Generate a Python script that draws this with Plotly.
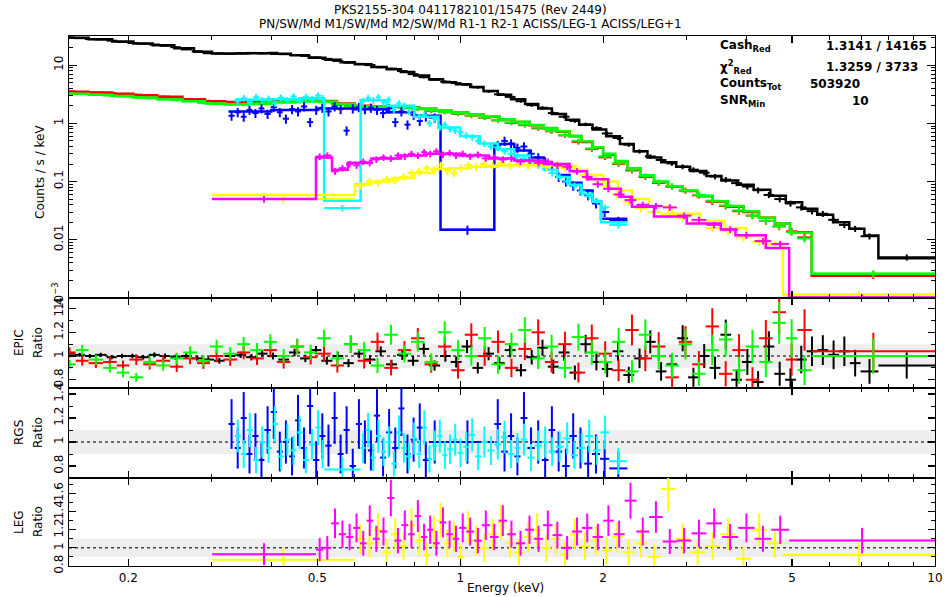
import numpy as np
import plotly.graph_objects as go
from plotly.subplots import make_subplots

# ---------------- EPIC pn (black) ----------------
pn_edges = [0.146, 0.154, 0.162, 0.170, 0.180, 0.189, 0.199, 0.209, 0.221, 0.233, 0.245, 0.258, 0.272, 0.287, 0.303,
            0.319, 0.336, 0.354, 0.373, 0.393, 0.414, 0.436, 0.460, 0.484, 0.510, 0.538, 0.567, 0.597, 0.629, 0.663,
            0.698, 0.736, 0.775, 0.817, 0.860, 0.907, 0.955, 1.007, 1.061, 1.118, 1.178, 1.241, 1.308, 1.378, 1.452,
            1.530, 1.612, 1.699, 1.790, 1.886, 1.987, 2.094, 2.206, 2.325, 2.449, 2.581, 2.719, 2.865, 3.019, 3.181,
            3.352, 3.532, 3.721, 3.921, 4.132, 4.353, 4.587, 4.833, 5.093, 5.366, 5.654, 5.958, 6.277, 6.614, 6.970,
            7.600, 10.0]
pn_rate = [30.0, 29.0, 28.0, 27.5, 26.3, 25.0, 24.0, 23.3, 22.6, 21.5, 20.3, 18.6, 17.3, 16.0, 15.8, 15.6, 16.0, 16.2,
           15.9, 16.3, 15.4, 14.9, 14.4, 13.6, 12.8, 11.8, 11.0, 10.5, 10.0, 9.2, 8.7, 7.9, 7.0, 6.2, 5.6, 5.2, 4.9,
           4.6, 4.15, 3.55, 3.15, 2.85, 2.40, 2.05, 1.85, 1.50, 1.30, 1.10, 0.96, 0.83, 0.67, 0.56, 0.43, 0.33, 0.27,
           0.235, 0.205, 0.18, 0.16, 0.142, 0.122, 0.108, 0.094, 0.082, 0.071, 0.059, 0.050, 0.042, 0.036, 0.031,
           0.028, 0.022, 0.018, 0.0155, 0.0115, 0.0050]
pn_ratio = [1.02, 1.01, 1.00, 1.01, 0.99, 1.00, 1.00, 0.99, 1.01, 1.00, 0.99, 1.00, 0.98, 0.97,
            0.96, 1.00, 1.01, 0.99, 1.02, 1.00, 0.97, 1.03, 0.98, 1.05, 0.96, 1.00, 0.94, 1.02, 0.97, 1.04,
            0.93, 1.01, 0.96, 1.06, 0.92, 1.00, 0.95, 1.08, 0.90, 1.02,
            0.94, 1.05, 0.88, 0.99, 1.07, 0.91, 1.03, 0.86, 1.10, 0.95,
            0.89, 1.04, 0.84, 0.98, 1.12, 0.87, 0.93, 1.15, 0.82, 1.00,
            0.90, 1.18, 0.80, 0.95, 0.78, 1.08, 0.85, 0.80, 0.97, 1.04,
            1.05, 1.01, 1.04, 0.94, 0.87, 0.92]
pn_model_edges = [0.146, 0.165, 0.185, 0.205, 0.225, 0.25, 0.275, 0.3, 0.33, 0.36, 0.4, 0.44, 0.48, 0.52, 0.56, 0.6,
                  0.65, 0.7, 0.75, 0.8, 0.86, 0.92, 0.98, 1.05, 1.12, 1.2, 1.28, 1.37, 1.46, 1.56, 1.67, 1.78, 1.9,
                  2.03, 2.17, 2.32, 2.48, 2.65, 2.85, 3.05, 3.3, 3.55, 3.85, 4.15, 4.5, 4.85, 5.25, 5.65, 6.1, 6.6,
                  7.1, 7.6, 10.0]
pn_model = [29.5, 27.8, 25.5, 23.5, 22.0, 19.5, 17.0, 15.8, 15.8, 16.0, 15.6, 14.7, 13.4, 12.4, 11.2, 10.3, 9.3, 8.5,
            7.6, 6.6, 5.7, 5.1, 4.7, 4.2, 3.6, 3.1, 2.6, 2.15, 1.8, 1.45, 1.15, 0.95, 0.78, 0.60, 0.44, 0.33, 0.26,
            0.215, 0.18, 0.152, 0.125, 0.104, 0.088, 0.072, 0.057, 0.044, 0.034, 0.027, 0.020, 0.0155, 0.0118, 0.0048]

# ---------------- MOS1 (red) / MOS2 (green) ----------------
mos_edges = [0.146, 0.155, 0.165, 0.177, 0.189, 0.201, 0.215, 0.229, 0.245, 0.261, 0.279, 0.297, 0.317, 0.339, 0.361,
             0.386, 0.411, 0.439, 0.469, 0.500, 0.534, 0.569, 0.608, 0.648, 0.692, 0.739, 0.788, 0.841, 0.898, 0.958,
             1.022, 1.090, 1.163, 1.241, 1.325, 1.413, 1.508, 1.609, 1.717, 1.833, 1.955, 2.087, 2.227, 2.376, 2.535,
             2.705, 2.887, 3.080, 3.287, 3.508, 3.743, 3.994, 4.262, 4.548, 4.853, 5.130, 5.500, 10.0]
m1_rate = [3.55, 3.45, 3.40, 3.30, 3.20, 3.10, 3.00, 2.88, 2.75, 2.60, 2.45, 2.38, 2.30, 2.28, 2.35, 2.40, 2.42, 2.45,
           2.45, 2.35, 2.15, 1.98, 1.95, 1.93, 1.92, 1.85, 1.75, 1.62, 1.55, 1.45, 1.35, 1.25, 1.12, 1.02, 0.93, 0.82,
           0.73, 0.62, 0.48, 0.36, 0.26, 0.20, 0.155, 0.12, 0.095, 0.082, 0.070, 0.058, 0.045, 0.038, 0.031, 0.026,
           0.021, 0.017, 0.014, 0.011, 0.0025]
m2_rate = [3.25, 3.20, 3.10, 3.00, 2.90, 2.80, 2.70, 2.60, 2.50, 2.40, 2.25, 2.15, 2.10, 2.10, 2.20, 2.30, 2.35, 2.40,
           2.42, 2.30, 2.10, 1.95, 1.93, 1.92, 1.90, 1.85, 1.76, 1.65, 1.56, 1.47, 1.36, 1.26, 1.14, 1.04, 0.95, 0.84,
           0.74, 0.63, 0.50, 0.37, 0.27, 0.205, 0.16, 0.125, 0.098, 0.084, 0.071, 0.059, 0.047, 0.039, 0.032, 0.026,
           0.021, 0.017, 0.0135, 0.0105, 0.0026]
m1_ratio = [1.03, 0.96, 0.94, 0.95, 0.92, 0.97, 0.93, 0.96, 0.91, 0.98, 0.94, 1.00, 0.97, 1.03, 0.98, 1.05, 0.95, 1.08,
            0.99, 1.02, 0.92, 1.10, 0.96, 1.12, 0.90, 1.05, 1.15, 0.93, 1.08, 0.88, 1.18, 1.00, 1.12, 0.90, 1.06, 1.20,
            0.95, 1.10, 0.86, 1.15, 1.02, 0.88, 1.22, 0.98, 1.08, 0.82, 1.12, 0.93, 1.25, 0.85, 1.05, 0.80, 1.15, 1.37,
            0.97, 1.22, 1.04]
m2_ratio = [0.93, 1.05, 0.97, 0.90, 0.86, 0.82, 0.95, 0.92, 0.98, 1.03, 0.96, 1.08, 1.02, 1.10, 1.05, 1.12, 1.00, 1.08,
            1.03, 1.15, 0.98, 1.10, 1.05, 0.92, 1.18, 1.02, 1.12, 0.95, 1.20, 1.05, 1.00, 1.15, 0.93, 1.10, 1.22, 0.98,
            1.08, 0.90, 1.16, 1.03, 0.95, 1.12, 0.87, 1.18, 1.00, 0.92, 1.10, 0.85, 1.05, 1.14, 0.88, 1.08, 0.95, 1.28,
            1.15, 0.88, 1.00]
mos_model_edges = [0.146, 0.165, 0.185, 0.205, 0.23, 0.26, 0.29, 0.32, 0.36, 0.4, 0.45, 0.5, 0.55, 0.6, 0.65, 0.7,
                   0.76, 0.82, 0.89, 0.96, 1.04, 1.12, 1.21, 1.3, 1.4, 1.5, 1.6, 1.7, 1.8, 1.9, 2.0, 2.12, 2.25, 2.4,
                   2.56, 2.74, 2.94, 3.16, 3.4, 3.66, 3.95, 4.26, 4.6, 4.95, 5.5, 10.0]
m1_model = [3.5, 3.38, 3.22, 3.05, 2.85, 2.6, 2.4, 2.32, 2.33, 2.4, 2.44, 2.42, 2.2, 2.0, 1.95, 1.93, 1.88, 1.78,
            1.65, 1.53, 1.42, 1.3, 1.17, 1.05, 0.93, 0.82, 0.72, 0.6, 0.48, 0.38, 0.29, 0.22, 0.165, 0.125, 0.098,
            0.082, 0.069, 0.056, 0.045, 0.037, 0.03, 0.024, 0.019, 0.0135, 0.0024]
m2_model = [3.22, 3.1, 2.95, 2.78, 2.6, 2.4, 2.2, 2.12, 2.15, 2.28, 2.38, 2.38, 2.15, 1.97, 1.93, 1.91, 1.87, 1.78,
            1.66, 1.54, 1.43, 1.31, 1.18, 1.06, 0.94, 0.83, 0.73, 0.61, 0.49, 0.39, 0.30, 0.225, 0.17, 0.128, 0.1,
            0.083, 0.07, 0.057, 0.046, 0.038, 0.031, 0.024, 0.019, 0.0132, 0.0026]

# ---------------- RGS1 (blue) ----------------
r1_edges = [0.325, 0.335, 0.345, 0.355, 0.365, 0.376, 0.387, 0.399, 0.411, 0.423, 0.436, 0.449, 0.462, 0.476, 0.490,
            0.505, 0.520, 0.536, 0.552, 0.568, 0.585, 0.603, 0.621, 0.639, 0.658, 0.678, 0.698, 0.719, 0.741, 0.763,
            0.786, 0.810, 0.834, 0.859, 0.909, 1.180, 1.220, 1.260, 1.300, 1.340, 1.385, 1.435, 1.485, 1.535, 1.585,
            1.640, 1.700, 1.760, 1.825, 1.895, 1.970, 2.060, 2.250]
r1_rate = [1.35, 1.55, 1.30, 1.70, 1.50, 1.80, 1.45, 1.90, 1.55, 1.20, 1.75, 1.60, 1.95, 1.05, 1.70, 1.85, 1.60, 1.95,
           1.75, 0.75, 1.80, 1.90, 1.75, 1.85, 1.70, 1.50, 1.80, 1.05, 1.60, 0.95, 1.40, 1.10, 1.30, 1.25, 0.0148,
           0.42, 0.50, 0.45, 0.38, 0.40, 0.30, 0.26, 0.22, 0.19, 0.12, 0.10, 0.085, 0.07, 0.058, 0.042, 0.030, 0.021]
r1_ratio = [1.15, 0.95, 1.20, 0.90, 1.05, 0.85, 1.10, 1.25, 0.92, 1.00, 0.88, 1.18, 0.95, 1.30, 0.85, 1.05, 0.97, 1.20,
            0.90, 1.10, 0.80, 1.15, 1.00, 0.93, 1.22, 0.87, 1.08, 0.95, 1.28, 0.90, 1.02, 1.12, 0.85, 1.00, 1.00, 1.15,
            0.92, 1.05, 0.88, 1.20, 0.95, 1.00, 0.85, 1.10, 0.92, 0.80, 1.05, 0.95, 0.82, 0.90, 0.86, 0.78]
r1_model_edges = [0.325, 0.4, 0.5, 0.6, 0.7, 0.8, 0.909, 1.18, 1.3, 1.4, 1.5, 1.6, 1.7, 1.8, 1.9, 1.98, 2.25]
r1_model = [1.6, 1.7, 1.8, 1.75, 1.55, 1.35, 0.0148, 0.44, 0.34, 0.26, 0.19, 0.13, 0.095, 0.07, 0.045, 0.023]

# ---------------- RGS2 (cyan) ----------------
r2_edges = [0.335, 0.345, 0.355, 0.366, 0.377, 0.389, 0.401, 0.413, 0.426, 0.439, 0.452, 0.466, 0.480, 0.495, 0.509,
            0.517, 0.617, 0.632, 0.648, 0.664, 0.681, 0.698, 0.716, 0.734, 0.752, 0.771, 0.790, 0.810, 0.830, 0.851,
            0.873, 0.895, 0.917, 0.940, 0.964, 0.988, 1.015, 1.045, 1.075, 1.107, 1.142, 1.180, 1.220, 1.260, 1.300,
            1.340, 1.385, 1.435, 1.485, 1.535, 1.590, 1.650, 1.710, 1.770, 1.835, 1.905, 1.975, 2.060, 2.250]
r2_rate = [2.40, 2.70, 2.30, 2.80, 2.50, 2.65, 2.20, 2.75, 2.50, 2.90, 2.45, 2.85, 2.60, 3.00, 2.70, 0.035, 2.40, 2.70,
           2.50, 2.80, 2.30, 2.55, 1.70, 2.20, 2.00, 1.60, 1.85, 1.30, 1.40, 1.00, 1.20, 0.85, 0.95, 0.80, 0.75, 0.70,
           0.62, 0.58, 0.50, 0.45, 0.40, 0.38, 0.33, 0.30, 0.27, 0.25, 0.22, 0.19, 0.17, 0.14, 0.12, 0.10, 0.085,
           0.068, 0.056, 0.047, 0.036, 0.018]
r2_ratio = [1.05, 0.90, 1.10, 0.85, 1.00, 0.95, 1.15, 0.88, 1.02, 0.93, 1.08, 0.85, 0.98, 1.12, 0.90, 0.77, 0.95, 1.10,
            0.87, 1.05, 0.92, 1.00, 0.82, 1.08, 0.95, 0.88, 1.03, 0.90, 1.12, 0.86, 0.97, 1.05, 0.89, 0.94, 1.02, 0.91,
            0.96, 1.06, 0.88, 1.00, 0.93, 0.98, 1.04, 0.90, 0.95, 1.02, 0.87, 0.97, 1.00, 0.92, 0.96, 1.03, 0.89, 0.95,
            1.05, 0.93, 1.08, 0.84]
r2_model_edges = [0.335, 0.4, 0.46, 0.517, 0.617, 0.7, 0.8, 0.9, 1.0, 1.1, 1.2, 1.3, 1.4, 1.5, 1.6, 1.7, 1.8, 1.9,
                  1.98, 2.25]
r2_model = [2.55, 2.6, 2.7, 0.047, 2.5, 2.0, 1.3, 0.85, 0.6, 0.45, 0.36, 0.28, 0.21, 0.16, 0.12, 0.088, 0.062, 0.045,
            0.020]

# ---------------- Chandra LETG -1 (magenta) ----------------
lm_edges = [0.300, 0.497, 0.515, 0.535, 0.555, 0.575, 0.595, 0.615, 0.635, 0.655, 0.677, 0.702, 0.727, 0.752, 0.777,
            0.802, 0.827, 0.852, 0.877, 0.905, 0.935, 0.965, 0.995, 1.030, 1.070, 1.110, 1.155, 1.205, 1.255, 1.310,
            1.370, 1.430, 1.495, 1.565, 1.640, 1.720, 1.805, 1.900, 2.000, 2.105, 2.220, 2.350, 2.500, 2.670, 2.860,
            3.070, 3.300, 3.560, 3.850, 4.170, 4.520, 4.930, 10.0]
lm_rate = [0.050, 0.27, 0.28, 0.15, 0.17, 0.20, 0.19, 0.22, 0.21, 0.24, 0.26, 0.25, 0.28, 0.27, 0.30, 0.28, 0.32,
           0.30, 0.33, 0.29, 0.31, 0.28, 0.30, 0.27, 0.29, 0.25, 0.26, 0.24, 0.25, 0.22, 0.23, 0.21, 0.22, 0.19, 0.18,
           0.15, 0.12, 0.09, 0.075, 0.06, 0.048, 0.040, 0.038, 0.036, 0.026, 0.022, 0.018, 0.015, 0.012, 0.0095,
           0.0085, 0.00102]
lm_ratio = [0.93, 0.98, 1.00, 1.27, 1.15, 1.12, 1.22, 1.05, 1.30, 1.10, 1.18, 1.55, 1.08, 1.25, 1.15, 1.35, 1.12, 1.20,
            1.05, 1.28, 1.15, 1.10, 1.22, 1.18, 1.08, 1.25, 1.12, 1.30, 1.15, 1.05, 1.20, 1.10, 1.25, 1.14, 1.00, 1.18,
            1.22, 1.12, 1.30, 1.15, 1.52, 1.18, 1.34, 1.07, 1.08, 1.16, 1.27, 1.12, 1.22, 1.10, 1.20, 1.08]
lm_model_edges = [0.300, 0.497, 0.537, 0.58, 0.65, 0.75, 0.85, 1.0, 1.15, 1.3, 1.5, 1.7, 1.85, 2.05, 2.18, 2.3, 2.56,
                  3.0, 3.54, 3.8, 4.4, 4.93, 10.0]
lm_model = [0.05, 0.26, 0.16, 0.21, 0.25, 0.28, 0.30, 0.28, 0.25, 0.23, 0.20, 0.15, 0.11, 0.075, 0.055, 0.037, 0.025,
            0.019, 0.015, 0.012, 0.0072, 0.00102]

# ---------------- Chandra LETG +1 (yellow) ----------------
lp_edges = [0.300, 0.600, 0.632, 0.657, 0.685, 0.715, 0.745, 0.775, 0.805, 0.835, 0.865, 0.895, 0.925, 0.955, 0.985,
            1.020, 1.060, 1.100, 1.145, 1.195, 1.245, 1.300, 1.360, 1.420, 1.485, 1.555, 1.625, 1.700, 1.785, 1.880,
            1.980, 2.085, 2.200, 2.330, 2.480, 2.650, 2.840, 3.050, 3.280, 3.530, 3.800, 4.100, 4.430, 4.780, 10.0]
lp_rate = [0.05, 0.085, 0.10, 0.095, 0.11, 0.105, 0.12, 0.14, 0.15, 0.17, 0.16, 0.19, 0.15, 0.14, 0.17, 0.19, 0.18,
           0.20, 0.19, 0.21, 0.19, 0.20, 0.19, 0.20, 0.18, 0.19, 0.17, 0.16, 0.13, 0.11, 0.085, 0.06, 0.045, 0.035,
           0.030, 0.028, 0.024, 0.020, 0.016, 0.014, 0.011, 0.0093, 0.0082, 0.00115]
lp_ratio = [0.87, 1.10, 1.05, 1.20, 0.95, 1.15, 1.02, 1.25, 1.08, 0.92, 1.18, 1.30, 1.05, 1.12, 0.90, 1.22, 1.08, 1.00,
            1.15, 1.28, 1.05, 0.95, 1.12, 1.20, 1.00, 1.10, 0.93, 1.15, 1.02, 1.08, 0.97, 1.12, 0.95, 1.05, 0.90, 1.65,
            1.10, 0.95, 1.02, 1.15, 0.88, 1.20, 1.05, 0.92]
lp_model_edges = [0.300, 0.60, 0.65, 0.72, 0.80, 0.88, 0.95, 1.05, 1.2, 1.4, 1.6, 1.75, 1.85, 2.0, 2.15, 2.3, 2.5,
                  2.8, 3.2, 3.6, 4.0, 4.4, 4.78, 10.0]
lp_model = [0.059, 0.09, 0.10, 0.115, 0.14, 0.165, 0.17, 0.18, 0.19, 0.19, 0.185, 0.16, 0.13, 0.10, 0.07, 0.05,
            0.037, 0.028, 0.021, 0.016, 0.012, 0.0085, 0.00115]

# ---------------- text ----------------
title_1 = "PKS2155-304 0411782101/15475 (Rev 2449)"
title_2 = "PN/SW/Md M1/SW/Md M2/SW/Md R1-1 R2-1 ACISS/LEG-1 ACISS/LEG+1"
stat_labels = ["Cash<sub>Red</sub>", "χ<sup>2</sup><sub>Red</sub>", "Counts<sub>Tot</sub>", "SNR<sub>Min</sub>"]
stat_values = ["1.3141 / 14165", "1.3259 / 3733", "503920", "10"]

# ---------------- figure ----------------
W, H = 945, 597
L, R, T, B = 69, 10, 36, 31
PW, PH = W - L - R, H - T - B


def px(xp):
    return (xp - L) / PW


def py(yp):
    return (H - B - yp) / PH


fig = make_subplots(rows=4, cols=1, shared_xaxes=True, vertical_spacing=0,
                    row_heights=[262, 90, 90, 88])

FONT = "DejaVu Sans"


def bins(edges):
    e = np.asarray(edges, dtype=float)
    lo, hi = e[:-1], e[1:]
    c = np.sqrt(lo * hi)
    return c, c - lo, hi - c


def add_series(edges, rate, ratio, medges, model, color, row, a, b, cap, th=2.0):
    c, em, ep = bins(edges)
    f = np.asarray(rate, dtype=float)
    r = np.asarray(ratio, dtype=float)
    rel = np.minimum(cap, a * c ** b)          # error-bar scale (style)
    ex = dict(type="data", symmetric=False, array=ep, arrayminus=em, color=color, thickness=th, width=0)
    fig.add_trace(go.Scatter(x=c, y=f, mode="markers", marker=dict(size=1, color=color),
                             error_x=ex, error_y=dict(type="data", array=f * rel, color=color, thickness=th, width=0),
                             hoverinfo="skip"), row=1, col=1)
    fig.add_trace(go.Scatter(x=list(medges), y=list(model) + [model[-1]], mode="lines",
                             line=dict(shape="hv", color=color, width=2.5), hoverinfo="skip"), row=1, col=1)
    fig.add_trace(go.Scatter(x=c, y=r, mode="markers", marker=dict(size=1, color=color),
                             error_x=ex, error_y=dict(type="data", array=r * rel, color=color, thickness=th, width=0),
                             hoverinfo="skip"), row=row, col=1)


add_series(pn_edges, pn_rate, pn_ratio, pn_model_edges, pn_model, "#000000", 2, 0.05, 0.6, 0.12)
add_series(mos_edges, m1_rate, m1_ratio, mos_model_edges, m1_model, "#ff0000", 2, 0.08, 0.35, 0.15)
add_series(mos_edges, m2_rate, m2_ratio, mos_model_edges, m2_model, "#00ff00", 2, 0.08, 0.35, 0.15)
add_series(r1_edges, r1_rate, r1_ratio, r1_model_edges, r1_model, "#0000ff", 3, 0.18, 0.0, 0.2)
add_series(r2_edges, r2_rate, r2_ratio, r2_model_edges, r2_model, "#00ffff", 3, 0.13, 0.0, 0.2)
add_series(lp_edges, lp_rate, lp_ratio, lp_model_edges, lp_model, "#ffff00", 4, 0.15, 0.0, 0.2)
add_series(lm_edges, lm_rate, lm_ratio, lm_model_edges, lm_model, "#ff00ff", 4, 0.13, 0.0, 0.2)

axis_common = dict(showline=True, linecolor="black", linewidth=1.2, mirror="allticks", ticks="inside",
                   tickcolor="black", showgrid=False, zeroline=False, automargin=False,
                   tickfont=dict(family=FONT, size=12, color="black"))

x_major = [0.2, 0.5, 1, 2, 5, 10]
x_minor = [0.3, 0.4, 0.6, 0.7, 0.8, 0.9, 3, 4, 6, 7, 8, 9]
for i in range(1, 5):
    fig.update_xaxes(type="log", range=[np.log10(0.15), 1.0], tickmode="array", tickvals=x_major,
                     ticktext=["0.2", "0.5", "1", "2", "5", "10"], ticklen=7, tickwidth=1.2,
                     minor=dict(tickvals=x_minor, ticks="inside", ticklen=4, tickcolor="black", tickwidth=1),
                     showticklabels=(i == 4), row=i, col=1, **axis_common)

y_minor = [m * 10.0 ** d for d in range(-3, 2) for m in range(2, 10)]
fig.update_yaxes(type="log", range=[-3, 1.5], tickmode="array", tickvals=[0.001, 0.01, 0.1, 1, 10],
                 ticktext=["10<sup>−3</sup>", "0.01", "0.1", "1", "10"], ticklen=8, tickwidth=1.2, tickangle=-90,
                 minor=dict(tickvals=y_minor, ticks="inside", ticklen=4, tickcolor="black", tickwidth=1),
                 row=1, col=1, **axis_common)
ratio_ranges = {2: [0.73, 1.49], 3: [0.70, 1.45], 4: [0.80, 1.77]}
ratio_ticks = {2: [0.8, 1, 1.2, 1.4], 3: [0.8, 1, 1.2, 1.4], 4: [0.8, 1, 1.2, 1.4, 1.6]}
for rr in (2, 3, 4):
    fig.update_yaxes(range=ratio_ranges[rr], tickmode="array", tickvals=ratio_ticks[rr],
                     ticktext=[("%g" % v) for v in ratio_ticks[rr]], ticklen=7, tickwidth=1.2, tickangle=-90,
                     minor=dict(dtick=0.1, tick0=0, ticks="inside", ticklen=4, tickcolor="black", tickwidth=1),
                     row=rr, col=1, **axis_common)

# grey tolerance band and dotted unity line in ratio panels
for rr in (2, 3, 4):
    xr = "x%d domain" % rr
    yr = "y%d" % rr
    fig.add_shape(type="rect", xref=xr, yref=yr, x0=0, x1=1, y0=0.9, y1=1.1, fillcolor="#eeeeee",
                  line=dict(width=0), layer="below")
    fig.add_shape(type="line", xref=xr, yref=yr, x0=0, x1=1, y0=1, y1=1,
                  line=dict(color="#444444", width=1.5, dash="dot"), layer="below")

ann = []
ann.append(dict(text=title_1, x=px(470), y=py(10), xref="paper", yref="paper", showarrow=False,
                font=dict(family=FONT, size=12, color="black"), xanchor="center", yanchor="middle"))
ann.append(dict(text=title_2, x=px(470), y=py(24), xref="paper", yref="paper", showarrow=False,
                font=dict(family=FONT, size=12, color="black"), xanchor="center", yanchor="middle"))
for lab, val, yy, xv in zip(stat_labels, stat_values, [46, 67, 84, 101], [824, 824, 808, 850]):
    ann.append(dict(text="<b>%s</b>" % lab, x=px(718), y=py(yy), xref="paper", yref="paper", showarrow=False,
                    font=dict(family=FONT, size=12, color="black"), xanchor="left", yanchor="middle"))
    ann.append(dict(text="<b>%s</b>" % val, x=px(xv), y=py(yy), xref="paper", yref="paper", showarrow=False,
                    font=dict(family=FONT, size=12, color="black"), xanchor="left", yanchor="middle"))
# axis titles
ann.append(dict(text="Counts / s / keV", x=px(40), y=py(172), xref="paper", yref="paper", showarrow=False,
                textangle=-90, font=dict(family=FONT, size=12, color="black"), xanchor="center", yanchor="middle"))
for name, yc in (("EPIC", 343), ("RGS", 433), ("LEG", 522)):
    ann.append(dict(text=name, x=px(19), y=py(yc), xref="paper", yref="paper", showarrow=False, textangle=-90,
                    font=dict(family=FONT, size=12, color="black"), xanchor="center", yanchor="middle"))
    ann.append(dict(text="Ratio", x=px(38), y=py(yc), xref="paper", yref="paper", showarrow=False, textangle=-90,
                    font=dict(family=FONT, size=12, color="black"), xanchor="center", yanchor="middle"))
ann.append(dict(text="Energy (keV)", x=px(505), y=py(588), xref="paper", yref="paper", showarrow=False,
                font=dict(family=FONT, size=12, color="black"), xanchor="center", yanchor="middle"))

fig.update_layout(width=W, height=H, margin=dict(l=L, r=R, t=T, b=B), paper_bgcolor="white",
                  plot_bgcolor="white", showlegend=False, annotations=ann)

fig.write_html("out.html", config={"displayModeBar": False, "staticPlot": True},
               post_script="document.body.style.margin='0';document.body.style.overflow='hidden';")
